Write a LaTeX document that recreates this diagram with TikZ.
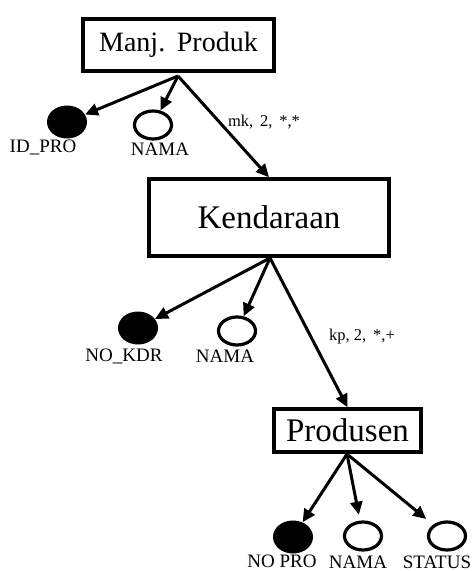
\documentclass[tikz,border=0pt]{standalone}
\usepackage{fontspec}
\setmainfont{Liberation Serif}
\usetikzlibrary{arrows.meta,shapes.geometric}

\tikzset{
  entity/.style={draw, line width=3.5pt, inner sep=0pt, fill=white},
  keyattr/.style={ellipse, fill=black, inner sep=0pt, minimum width=40pt, minimum height=33pt},
  attr/.style={ellipse, draw, line width=3.2pt, fill=white, inner sep=0pt, minimum width=37pt, minimum height=28pt},
  attrlabel/.style={font=\fontsize{19}{19}\selectfont, inner sep=0pt},
  rellabel/.style={font=\fontsize{16.5}{17}\selectfont, inner sep=0pt},
  link/.style={line width=3pt, -{Triangle[length=13pt,width=12pt]}},
}

\begin{document}
\begin{tikzpicture}[x=1pt,y=-1pt]
  \useasboundingbox[fill=white] (0,0) rectangle (473,571);

  % entities
  \node[entity, minimum width=191pt, minimum height=52pt,
        font=\fontsize{28}{28}\selectfont] (mp) at (178.5,45) {Manj.\ \,Produk};
  \node[entity, minimum width=240pt, minimum height=77pt,
        font=\fontsize{33}{33}\selectfont] (kd) at (269,217.5) {Kendaraan};
  \node[entity, minimum width=147pt, minimum height=43pt,
        font=\fontsize{33}{33}\selectfont] (pr) at (347.5,430.5) {Produsen};

  % attributes of Manj. Produk
  \node[keyattr] (idpro) at (67,122) {};
  \node[attrlabel] (idprol) at (43,147) {ID\_PRO};
  \node[attr] (nama1) at (153,125) {};
  \node[attrlabel] (nama1l) at (160,149) {NAMA};

  % attributes of Kendaraan
  \node[keyattr] (nokdr) at (138,328) {};
  \node[attrlabel] (nokdrl) at (124,356) {NO\_KDR};
  \node[attr] (nama2) at (237,331) {};
  \node[attrlabel] (nama2l) at (225,356) {NAMA};

  % attributes of Produsen
  \node[keyattr] (nopro) at (293,537) {};
  \node[attrlabel] (noprol) at (282,561) {NO PRO};
  \node[attr] (nama3) at (363,536) {};
  \node[attrlabel] (nama3l) at (358,562) {NAMA};
  \node[attr] (status) at (447,536) {};
  \node[attrlabel] (statusl) at (437,562) {STATUS};

  % connectors
  \coordinate (mps) at (178,76);
  \coordinate (kds) at (270,258);
  \coordinate (prs) at (347,454);

  \draw[link] (mps) -- (idpro);
  \draw[link] (mps) -- (nama1);
  \draw[link] (mps) -- (kd.north);

  \draw[link] (kds) -- (nokdr);
  \draw[link] (kds) -- (nama2);
  \draw[link] (kds) -- (pr.north);

  \draw[link] (prs) -- (nopro);
  \draw[link, shorten >=6pt] (prs) -- (nama3);
  \draw[link, shorten >=9pt] (prs) -- (status);

  % relation labels
  \node[rellabel] (mklab) at (264,122) {mk, \,2, \,*,*};
  \node[rellabel] (kplab) at (362,337) {kp, 2, \,*,+};
\end{tikzpicture}
\end{document}
